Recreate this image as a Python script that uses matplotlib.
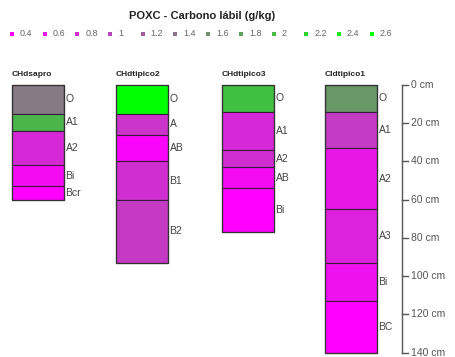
import numpy as np
import matplotlib
matplotlib.use('Agg')
import matplotlib.pyplot as plt
from matplotlib.colors import LinearSegmentedColormap, Normalize
from matplotlib.patches import Rectangle

plt.rcParams['font.family'] = ['Liberation Sans', 'DejaVu Sans']

# data
profiles = ['CHdsapro', 'CHdtipico2', 'CHdtipico3', 'Cldtipico1']

sapro_hz = ['O', 'A1', 'A2', 'Bi', 'Bcr']
sapro_depth = [0, 15, 24, 42, 53, 60]
sapro_c = [1.45, 1.95, 0.75, 0.5, 0.4]

tip2_hz = ['O', 'A', 'AB', 'B1', 'B2']
tip2_depth = [0, 15, 26, 40, 60, 93]
tip2_c = [2.6, 0.85, 0.45, 0.8, 0.9]

tip3_hz = ['O', 'A1', 'A2', 'AB', 'Bi']
tip3_depth = [0, 14, 34, 43, 54, 77]
tip3_c = [2.05, 0.75, 0.8, 0.5, 0.4]

cl1_hz = ['O', 'A1', 'A2', 'A3', 'Bi', 'BC']
cl1_depth = [0, 14, 33, 65, 93, 113, 140]
cl1_c = [1.7, 0.92, 0.6, 0.7, 0.55, 0.4]

legend_vals = [0.4, 0.6, 0.8, 1, 1.2, 1.4, 1.6, 1.8, 2, 2.2, 2.4, 2.6]
legend_labels = ['0.4', '0.6', '0.8', '1', '1.2', '1.4', '1.6', '1.8', '2', '2.2', '2.4', '2.6']
depth_ticks = [0, 20, 40, 60, 80, 100, 120, 140]

all_hz = [sapro_hz, tip2_hz, tip3_hz, cl1_hz]
all_depth = [sapro_depth, tip2_depth, tip3_depth, cl1_depth]
all_c = [sapro_c, tip2_c, tip3_c, cl1_c]

cmap = LinearSegmentedColormap.from_list('poxc', ['#ff00ff', '#7f7f7f', '#00ff00'])
norm = Normalize(vmin=0.4, vmax=2.6)

W, H = 456, 357
px_cm = 1.912
top_px = 85

fig = plt.figure(figsize=(W / 100, H / 100), dpi=100)
ax = fig.add_axes([0, 0, 1, 1])
ax.set_xlim(0, W)
ax.set_ylim((H - top_px) / px_cm, -top_px / px_cm)
ax.axis('off')

lefts = [12, 116, 222, 325]
bw = 52
for k in range(len(profiles)):
    d = all_depth[k]
    x0 = lefts[k]
    for j in range(len(all_hz[k])):
        ax.add_patch(Rectangle((x0, d[j]), bw, d[j + 1] - d[j],
                               facecolor=cmap(norm(all_c[k][j])),
                               edgecolor='#3a1a3a', linewidth=0.8))
        ax.text(x0 + bw + 1.5, (d[j] + d[j + 1]) / 2, all_hz[k][j],
                fontsize=7.5, color='#444444', ha='left', va='center')
    ax.add_patch(Rectangle((x0, d[0]), bw, d[-1] - d[0], facecolor='none',
                           edgecolor='#333333', linewidth=0.9))
    ax.text(x0, -5.5, profiles[k], fontsize=6, fontweight='bold',
            color='#222222', ha='left', va='center')

# depth scale
ax.plot([402, 402], [depth_ticks[0], depth_ticks[-1]], color='#555555', lw=1)
for t in depth_ticks:
    ax.plot([402, 408], [t, t], color='#555555', lw=1)
    ax.text(411, t, '%d cm' % t, fontsize=7.5, color='#555555',
            ha='left', va='center')

# title and legend
fig.text(202 / W, 1 - 16 / H, 'POXC - Carbono lábil (g/kg)', fontsize=8,
         fontweight='bold', color='#222222', ha='center', va='center')
for i, v in enumerate(legend_vals):
    x = 12 + i * 32.7
    ax.scatter([x], [(34 - top_px) / px_cm], marker='s', s=8,
               color=cmap(norm(v)), linewidths=0)
    ax.text(x + 8, (34 - top_px) / px_cm, legend_labels[i], fontsize=6.5,
            color='#666666', ha='left', va='center')

fig.savefig('out.png', dpi=100)
